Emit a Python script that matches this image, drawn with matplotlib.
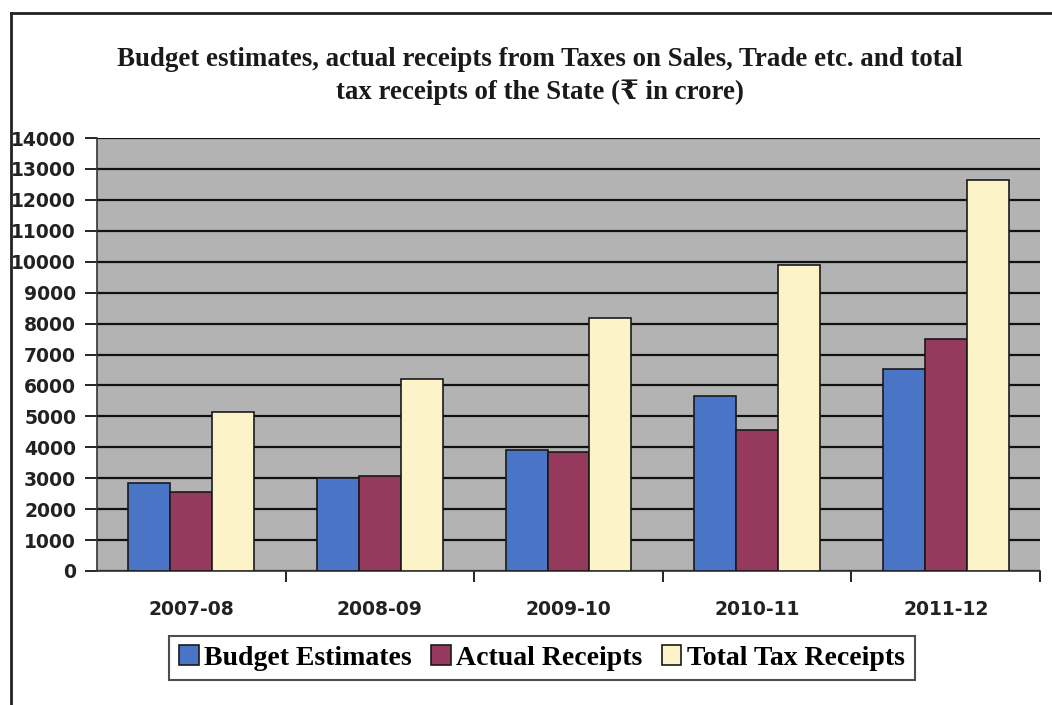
import numpy as np
import matplotlib.pyplot as plt
from matplotlib.lines import Line2D

years = ['2007-08', '2008-09', '2009-10', '2010-11', '2011-12']
budget = [2850, 3010, 3920, 5670, 6530]
actual = [2550, 3080, 3860, 4570, 7490]
total = [5130, 6200, 8190, 9880, 12650]

series_names = ['Budget Estimates', 'Actual Receipts', 'Total Tax Receipts']
colors = ['#4a74c6', '#953a5c', '#fcf4c8']

fig = plt.figure(figsize=(10.52, 7.05), dpi=100)
ax = fig.add_axes([97 / 1052, 1 - 571 / 705, (1040 - 97) / 1052, (571 - 138) / 705])
ax.set_facecolor('#b3b3b3')

x = np.arange(len(years))
w = 1 / 4.5
for i, vals in enumerate([budget, actual, total]):
    ax.bar(x + (i - 1) * w, vals, w, color=colors[i], edgecolor='#1a1a1a',
           linewidth=1.2, label=series_names[i], zorder=3)

ax.set_xlim(-0.5, len(years) - 0.5)
ax.set_ylim(0, 14000)
ax.set_yticks(range(0, 14001, 1000))
ax.yaxis.grid(True, color='#111111', linewidth=1.6, zorder=1)
ax.set_axisbelow(True)

# category labels in the middle, tick marks between groups
ax.set_xticks(np.arange(0.5, len(years), 1))
ax.set_xticklabels([])
ax.set_xticks(x, minor=True)
ax.set_xticklabels(years, minor=True, fontsize=13.5, fontweight='bold',
                   color='#222222')
ax.tick_params(axis='x', which='minor', length=0, pad=21)
ax.tick_params(axis='x', which='major', length=8, width=1.2, direction='out')
ax.tick_params(axis='y', length=9, width=1.2, pad=6, labelsize=13.5,
               labelcolor='#222222')
for t in ax.get_yticklabels():
    t.set_fontweight('bold')

for s in ['top', 'right']:
    ax.spines[s].set_visible(False)
ax.spines['left'].set_color('#333333')
ax.spines['bottom'].set_color('#333333')
ax.spines['left'].set_linewidth(1.2)
ax.spines['bottom'].set_linewidth(1.2)

fig.text(540 / 1052, 1 - 76 / 705,
         'Budget estimates, actual receipts from Taxes on Sales, Trade etc. and total\n'
         'tax receipts of the State (\u20b9 in crore)',
         ha='center', va='center', fontsize=19.4, fontweight='bold',
         family=['Liberation Serif', 'DejaVu Serif', 'DejaVu Sans'],
         linespacing=1.42, color='#1a1a1a')

leg = fig.legend(loc='center', bbox_to_anchor=(542 / 1052, 1 - 658 / 705),
                 ncol=3, frameon=True, fancybox=False, edgecolor='#222222',
                 handlelength=0.7, handleheight=0.7, handletextpad=0.2,
                 columnspacing=0.7, borderpad=0.35,
                 prop={'family': 'Liberation Serif', 'weight': 'bold', 'size': 20})
leg.get_frame().set_linewidth(1.5)

fig.add_artist(Line2D([11 / 1052, 1], [1 - 13 / 705, 1 - 13 / 705],
                      transform=fig.transFigure, color='#222222', linewidth=2))
fig.add_artist(Line2D([11 / 1052, 11 / 1052], [0, 1 - 13 / 705],
                      transform=fig.transFigure, color='#222222', linewidth=2))

fig.savefig('out.png', dpi=100)
